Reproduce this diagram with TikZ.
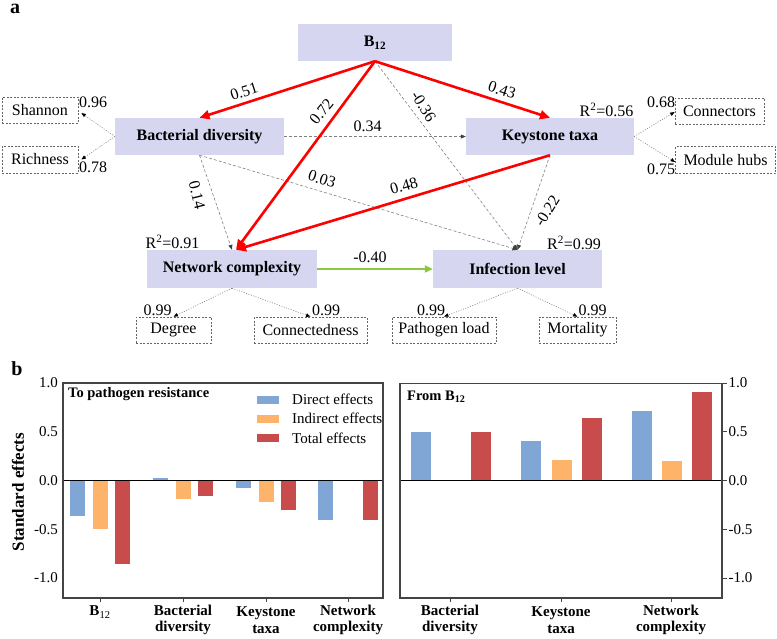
\documentclass[tikz,border=0pt]{standalone}
\usepackage{fontspec}
\setmainfont{Liberation Serif}
\usetikzlibrary{arrows.meta}
\definecolor{boxfill}{RGB}{214,214,240}
\definecolor{cblue}{RGB}{127,166,212}
\definecolor{corange}{RGB}{253,180,106}
\definecolor{cred}{RGB}{201,76,76}
\definecolor{cgreen}{RGB}{141,198,63}
\definecolor{framec}{RGB}{68,68,68}
\begin{document}
\begin{tikzpicture}[x=1pt,y=-1pt,
  box/.style={fill=boxfill, inner sep=0pt, minimum height=37pt, font=\bfseries\fontsize{16}{18}\selectfont},
  ind/.style={draw=black!60, dash pattern=on 2pt off 1.5pt, line width=0.7pt, inner sep=0pt, minimum height=26pt, font=\fontsize{16}{18}\selectfont},
  lab/.style={inner sep=0pt, font=\fontsize{16}{18}\selectfont},
  redp/.style={draw=red, line width=2.6pt, -{Triangle[length=10pt,width=9pt]}},
  grnp/.style={draw=cgreen, line width=2.2pt, -{Triangle[length=8pt,width=7pt]}},
  dsh/.style={draw=black!50, line width=0.6pt, dash pattern=on 3pt off 2pt, -{Triangle[length=5pt,width=4pt,color=black!75]}},
  meas/.style={draw=black!50, line width=0.6pt, dash pattern=on 1pt off 1.5pt, -{Triangle[length=4.5pt,width=3.5pt,color=black]}},
  ticklab/.style={inner sep=0pt, font=\fontsize{15}{17}\selectfont},
  catlab/.style={inner sep=0pt, align=center, font=\bfseries\fontsize{15}{16.5}\selectfont},
  legtxt/.style={inner sep=0pt, anchor=west, font=\fontsize{15}{17}\selectfont},
  framed/.style={draw=framec, line width=1.1pt},
  panlab/.style={inner sep=0pt, anchor=base, font=\bfseries\fontsize{20}{22}\selectfont}
]
\useasboundingbox (0,0) rectangle (777,638);

% ---------------- panel a ----------------
\node[panlab] (pa) at (15,13) {a};

\node[box, minimum width=154pt] (b12) at (375,42.5) {B\textsubscript{12}};
\node[box, minimum width=169pt] (bd) at (199.5,136.5) {Bacterial diversity};
\node[box, minimum width=168pt] (kt) at (550,136.5) {Keystone taxa};
\node[box, minimum width=170pt, minimum height=38pt] (nc) at (232,269) {Network complexity};
\node[box, minimum width=169pt, minimum height=38pt] (il) at (517.5,269) {Infection level};

\node[ind, minimum width=76pt] (sh) at (40,110) {Shannon};
\node[ind, minimum width=76pt, minimum height=27pt] (ri) at (40,159.5) {Richness};
\node[ind, minimum width=89pt] (co) at (719.5,111) {Connectors};
\node[ind, minimum width=100pt, minimum height=27pt] (mh) at (725.5,160) {Module hubs};
\node[ind, minimum width=75pt] (dg) at (173.5,330) {Degree};
\node[ind, minimum width=113pt] (cn) at (310.5,330) {Connectedness};
\node[ind, minimum width=104pt] (pl) at (444,330) {Pathogen load};
\node[ind, minimum width=77pt] (mo) at (577.5,330) {Mortality};

\coordinate (ncin) at ([xshift=4pt]nc.north);

% thin dashed paths
\draw[dsh] (bd.east) -- (kt.west);
\draw[dsh] (bd.south) -- (nc.north);
\draw[dsh] (bd.south) -- (il.north);
\draw[dsh] (b12.south) -- (il.north);
\draw[dsh] (kt.south) -- (il.north);

% measurement arrows
\draw[meas] (bd.west) -- ([shift={(3pt,-3pt)}]sh.east);
\draw[meas] (bd.west) -- ([shift={(3pt,0pt)}]ri.east);
\draw[meas] (kt.east) -- ([shift={(0pt,-1pt)}]co.west);
\draw[meas] (kt.east) -- ([shift={(0pt,-2pt)}]mh.west);
\draw[meas] (nc.south) -- (dg.north);
\draw[meas] (nc.south) -- (cn.north);
\draw[meas] (il.south) -- (pl.north);
\draw[meas] (il.south) -- (mo.north);

% strong paths
\draw[redp] (b12.south) -- (bd.north);
\draw[redp] (b12.south) -- (kt.north);
\draw[redp] (b12.south) -- (ncin);
\draw[redp] (kt.south) -- (ncin);
\draw[grnp] (nc.east) -- (il.west);

% path coefficients
\node[lab, rotate=18] (c1) at (244,91.5) {0.51};
\node[lab, rotate=51] (c2) at (321.5,111.5) {0.72};
\node[lab, rotate=-18] (c3) at (502,90) {0.43};
\node[lab, rotate=-58] (c4) at (423.5,106.5) {-0.36};
\node[lab] (c5) at (367.5,126) {0.34};
\node[lab, rotate=-18] (c6) at (322,179) {0.03};
\node[lab, rotate=16] (c7) at (404,186) {0.48};
\node[lab, rotate=-76] (c8) at (197,195) {0.14};
\node[lab, rotate=58] (c9) at (547,211) {-0.22};
\node[lab] (c10) at (370,257) {-0.40};

\node[lab] (r1) at (606.5,110) {R\textsuperscript{2}=0.56};
\node[lab] (r2) at (172.5,242) {R\textsuperscript{2}=0.91};
\node[lab] (r3) at (574,243) {R\textsuperscript{2}=0.99};

\node[lab] (l1) at (93,102) {0.96};
\node[lab] (l2) at (93,167.5) {0.78};
\node[lab] (l3) at (661,102.5) {0.68};
\node[lab] (l4) at (661,169) {0.75};
\node[lab] (l5) at (157.5,310) {0.99};
\node[lab] (l6) at (326,310) {0.99};
\node[lab] (l7) at (431,310) {0.99};
\node[lab] (l8) at (592.5,310) {0.99};

% ---------------- panel b ----------------
\node[panlab] (pb) at (17,375) {b};

% left panel bars (width 15)
\foreach \x/\v/\c in {77.5/-0.36/cblue,100/-0.50/corange,122.5/-0.86/cred,
  160.5/0.03/cblue,183/-0.19/corange,205.5/-0.16/cred,
  243.5/-0.08/cblue,266/-0.22/corange,288.5/-0.30/cred,
  325.5/-0.405/cblue,370.5/-0.405/cred}
  \fill[\c] ({\x-7.5},480.5) rectangle ({\x+7.5},{480.5-97.5*\v});
% right panel bars (width 20)
\foreach \x/\v/\c in {420.5/0.50/cblue,481/0.50/cred,
  531/0.41/cblue,561.5/0.21/corange,591.5/0.64/cred,
  642/0.71/cblue,672/0.20/corange,702/0.91/cred}
  \fill[\c] ({\x-10},480.5) rectangle ({\x+10},{480.5-97.5*\v});

\draw[black, line width=0.9pt] (63,480.5) -- (383,480.5);
\draw[black, line width=0.9pt] (400,480.5) -- (722,480.5);
\draw[framed] (63,383) rectangle (383,598);
\draw[framed] (400,383.5) rectangle (722,598);

% y tick labels
\foreach \v/\t [count=\i] in {1.0/1.0,0.5/0.5,0.0/0.0,-0.5/-0.5,-1.0/-1.0}{
  \node[ticklab, anchor=east] (ly\i) at (58,{480.5-97.5*\v}) {\t};
  \draw[framec, line width=1pt] (722,{480.5-97.5*\v}) -- (727,{480.5-97.5*\v});
  \node[ticklab, anchor=west] (ry\i) at (728.5,{480.5-97.5*\v}) {\t};
}
% x ticks
\foreach \x in {100,183,266,348,450,561,671}
  \draw[framec, line width=1pt] (\x,598) -- (\x,602);

\node[catlab] (xb1) at (100,612) {B\textsubscript{\mdseries 12}};
\node[catlab] (xb2) at (183,620) {Bacterial\\diversity};
\node[catlab] (xb3) at (266,620) {Keystone\\taxa};
\node[catlab] (xb4) at (348,620) {Network\\complexity};
\node[catlab] (xr2) at (450,620) {Bacterial\\diversity};
\node[catlab] (xr3) at (561,620) {Keystone\\taxa};
\node[catlab] (xr4) at (671,620) {Network\\complexity};

\node[inner sep=0pt, rotate=90, font=\bfseries\fontsize{17}{19}\selectfont] (ylab) at (18,492) {Standard effects};

\node[inner sep=0pt, anchor=west, font=\bfseries\fontsize{14.5}{16}\selectfont] (t1) at (68,394) {To pathogen resistance};
\node[inner sep=0pt, anchor=west, font=\bfseries\fontsize{14.5}{16}\selectfont] (t2) at (407,397) {From B\textsubscript{12}};

% legend
\fill[cblue] (257,395.5) rectangle (279,403.5);
\fill[corange] (257,414.5) rectangle (279,422.5);
\fill[cred] (257,434) rectangle (279,442);
\node[legtxt] (g1) at (292,399.5) {Direct effects};
\node[legtxt] (g2) at (292,418.5) {Indirect effects};
\node[legtxt] (g3) at (292,438) {Total effects};
\end{tikzpicture}
\end{document}
